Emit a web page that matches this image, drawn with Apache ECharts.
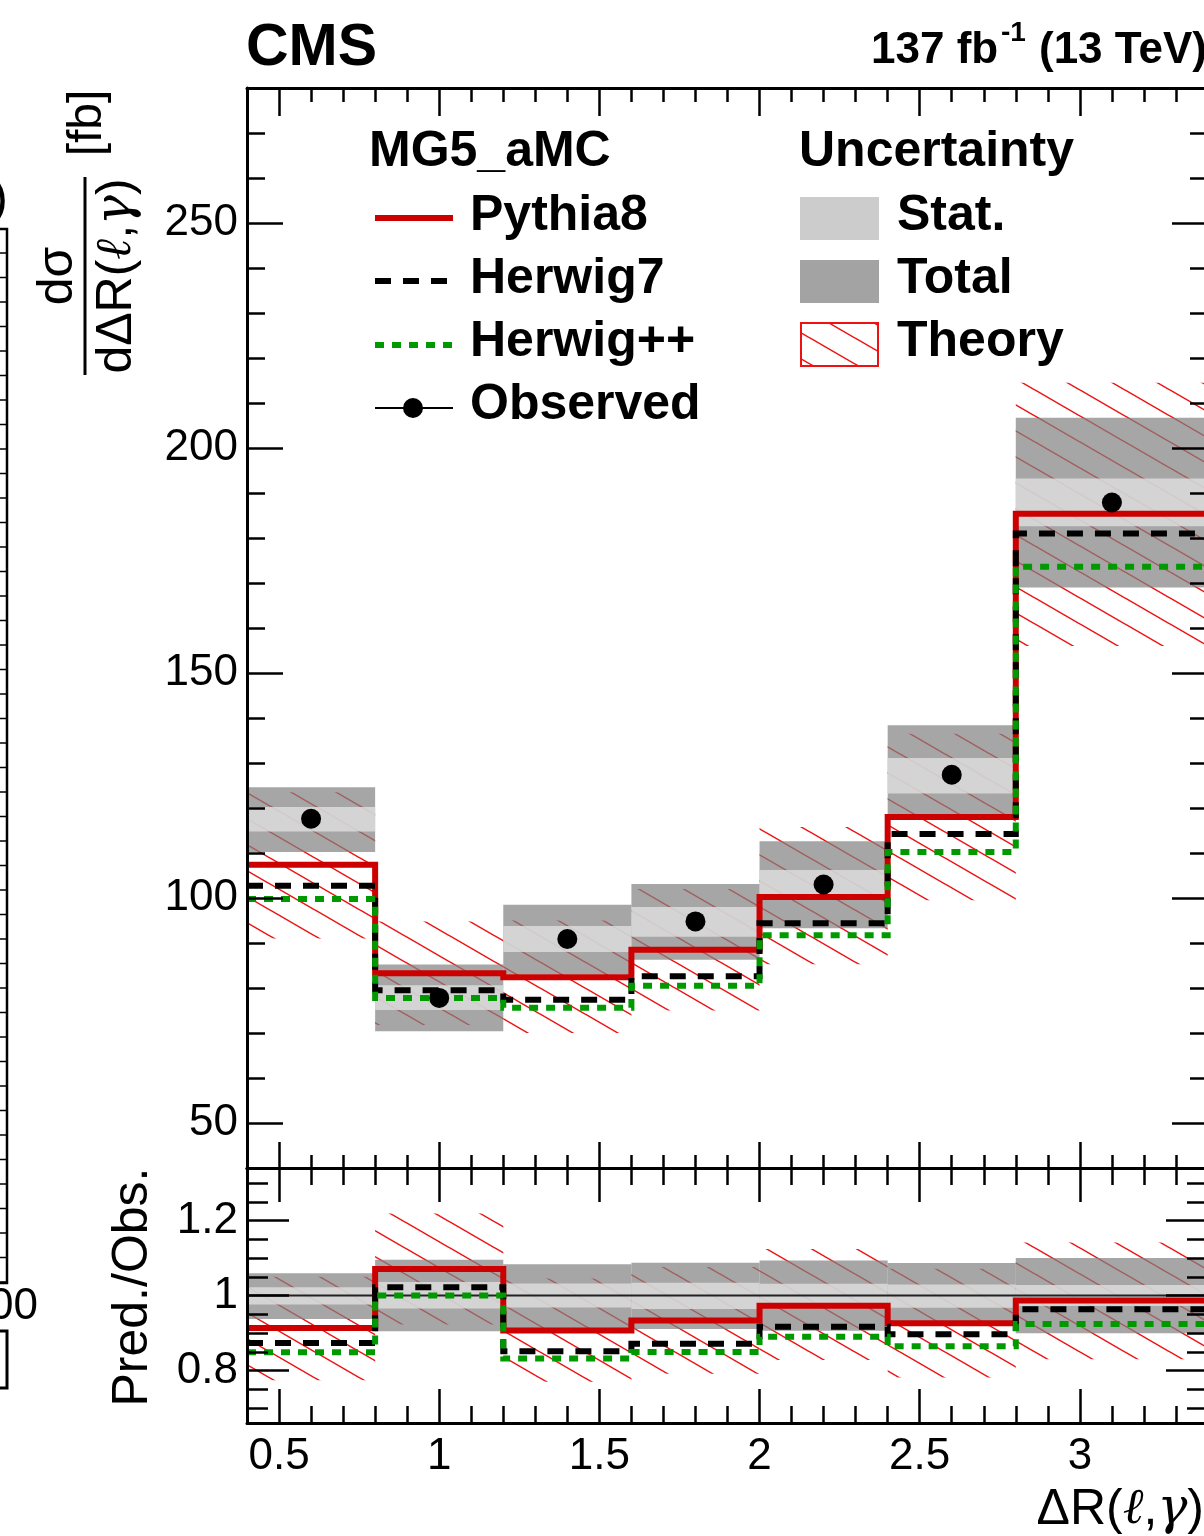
<!DOCTYPE html>
<html>
<head>
<meta charset="utf-8">
<script src="https://cdn.jsdelivr.net/npm/echarts@6/dist/echarts.min.js"></script>
<style>
  html, body { margin: 0; padding: 0; background: #ffffff; }
  #chart { width: 1204px; height: 1536px; }
</style>
</head>
<body>
<div id="chart"></div>
<script>
// Differential cross section in Delta R(lepton, photon), bin edges and contents (fb)
const binEdges   = [0.4, 0.8, 1.2, 1.6, 2.0, 2.4, 2.8, 3.4];
const observed   = [117.6, 77.8, 90.9, 94.8, 103.0, 127.4, 187.9];
const statLow    = [114.8, 75.1, 88.0, 91.4, 99.6, 123.2, 182.6];
const statHigh   = [120.2, 80.6, 93.8, 98.0, 106.2, 131.1, 193.2];
const totalLow   = [110.2, 70.4, 83.0, 86.3, 93.3, 117.8, 169.0];
const totalHigh  = [124.6, 85.2, 98.5, 103.1, 112.6, 138.4, 206.7];
const pythia8    = [107.4, 83.3, 82.4, 88.5, 100.2, 118.0, 185.4];
const herwig7    = [102.7, 79.5, 77.4, 82.6, 94.4, 114.2, 181.0];
const herwigPP   = [99.8, 77.8, 75.6, 80.5, 91.7, 110.2, 173.6];
const theoryLow  = [91.0, 71.8, 70.0, 75.0, 85.3, 99.5, 156.0];
const theoryHigh = [123.5, 94.8, 95.0, 102.0, 115.8, 136.5, 214.5];

// Axis ranges and tick positions
const xRange = [0.4, 3.4];
const yMainRange = [40, 280];
const yRatioRange = [0.66, 1.34];
const xMajorTicks = [0.5, 1, 1.5, 2, 2.5, 3];
const xMinorTicks = [0.4, 0.5, 0.6, 0.7, 0.8, 0.9, 1.0, 1.1, 1.2, 1.3, 1.4, 1.5, 1.6, 1.7,
                     1.8, 1.9, 2.0, 2.1, 2.2, 2.3, 2.4, 2.5, 2.6, 2.7, 2.8, 2.9, 3.0, 3.1, 3.2, 3.3, 3.4];
const yMainMajorTicks = [50, 100, 150, 200, 250];
const yMainMinorTicks = [40, 50, 60, 70, 80, 90, 100, 110, 120, 130, 140, 150, 160, 170, 180,
                         190, 200, 210, 220, 230, 240, 250, 260, 270, 280];
const yRatioMajorTicks = [0.8, 1, 1.2];
const yRatioMinorTicks = [0.7, 0.75, 0.8, 0.85, 0.9, 0.95, 1.0, 1.05, 1.1, 1.15, 1.2, 1.25, 1.3];

const FONT = '"Liberation Sans", Arial, Helvetica, sans-serif';
const RED = '#cc0000';
const GREEN = '#009a00';

// Ratio to the observed values
const toRatio = arr => arr.map((v, i) => v / observed[i]);

// Histogram outline: horizontal segment per bin, joined by vertical steps
function stepData(values) {
  const pts = [];
  values.forEach((v, i) => {
    pts.push([binEdges[i], v]);
    pts.push([binEdges[i + 1], v]);
  });
  return pts;
}
// Per-bin band: [low edge, high edge, low value, high value]
function bandData(lo, hi) {
  return lo.map((v, i) => [binEdges[i], binEdges[i + 1], v, hi[i]]);
}
function binCenters(values) {
  return values.map((v, i) => [(binEdges[i] + binEdges[i + 1]) / 2, v]);
}

// Diagonal hatch used for the theory uncertainty
function makeHatchCanvas() {
  const W = 45, H = 26;
  const c = document.createElement('canvas');
  c.width = W; c.height = H;
  const ctx = c.getContext('2d');
  ctx.strokeStyle = '#ee1111';
  ctx.lineWidth = 1.5;
  for (let k = -1; k <= 1; k++) {
    ctx.beginPath();
    ctx.moveTo(-W, -H + k * H);
    ctx.lineTo(2 * W, 2 * H + k * H);
    ctx.stroke();
  }
  return c;
}
const hatchFill = { image: makeHatchCanvas(), repeat: 'repeat' };
const totalFill = 'rgba(128,128,128,0.70)';
const statFill = 'rgba(220,220,220,0.85)';

function bandSeries(xi, yi, data, fill, z) {
  return {
    type: 'custom', xAxisIndex: xi, yAxisIndex: yi, z: z, clip: true,
    encode: { x: [0, 1], y: [2, 3] },
    data: data,
    renderItem: function (params, api) {
      const p0 = api.coord([api.value(0), api.value(3)]);
      const p1 = api.coord([api.value(1), api.value(2)]);
      return {
        type: 'rect',
        shape: { x: p0[0], y: p0[1], width: p1[0] - p0[0], height: p1[1] - p0[1] },
        style: { fill: fill, stroke: null }
      };
    }
  };
}
function histSeries(xi, yi, values, color, dash, z) {
  return {
    type: 'line', xAxisIndex: xi, yAxisIndex: yi, z: z, clip: true,
    data: stepData(values), symbol: 'none', silent: true,
    lineStyle: { color: color, width: 6, type: dash, cap: 'butt', join: 'miter', opacity: 1 }
  };
}

// Axis helpers: one axis per tick set so major/minor ticks can have their own lengths
function xAx(grid, pos, ticks, len, opts) {
  opts = opts || {};
  return {
    gridIndex: grid, type: 'value', position: pos, min: xRange[0], max: xRange[1], z: 10,
    axisLine: { show: !!opts.line, lineStyle: { color: '#000', width: 3 } },
    splitLine: { show: false },
    axisTick: { show: true, inside: true, length: len, customValues: ticks,
                lineStyle: { color: '#000', width: 2.5 } },
    axisLabel: opts.labels ? {
      show: true, customValues: ticks, margin: 12, color: '#000',
      fontSize: 44, fontFamily: FONT
    } : { show: false }
  };
}
function yAx(grid, pos, range, ticks, len, opts) {
  opts = opts || {};
  return {
    gridIndex: grid, type: 'value', position: pos, min: range[0], max: range[1], z: 10,
    axisLine: { show: !!opts.line, lineStyle: { color: '#000', width: 3 } },
    splitLine: { show: false },
    axisTick: { show: true, inside: true, length: len, customValues: ticks,
                lineStyle: { color: '#000', width: 2.5 } },
    axisLabel: opts.labels ? {
      show: true, customValues: ticks, margin: 9, color: '#000',
      fontSize: 44, fontFamily: FONT
    } : { show: false }
  };
}

const series = [
  // upper panel
  bandSeries(0, 0, bandData(theoryLow, theoryHigh), hatchFill, 1),
  bandSeries(0, 0, bandData(totalLow, totalHigh), totalFill, 2),
  bandSeries(0, 0, bandData(statLow, statHigh), statFill, 3),
  histSeries(0, 0, pythia8, RED, 'solid', 5),
  histSeries(0, 0, herwig7, '#000000', [16, 12], 6),
  histSeries(0, 0, herwigPP, GREEN, [9, 8], 7),
  {
    type: 'scatter', xAxisIndex: 0, yAxisIndex: 0, z: 8,
    data: binCenters(observed), symbol: 'circle', symbolSize: 20,
    itemStyle: { color: '#000', opacity: 1 }, silent: true
  },
  // ratio panel
  bandSeries(4, 4, bandData(toRatio(theoryLow), toRatio(theoryHigh)), hatchFill, 1),
  bandSeries(4, 4, bandData(toRatio(totalLow), toRatio(totalHigh)), totalFill, 2),
  bandSeries(4, 4, bandData(toRatio(statLow), toRatio(statHigh)), statFill, 3),
  {
    type: 'line', xAxisIndex: 4, yAxisIndex: 4, z: 4, symbol: 'none', silent: true,
    data: [[binEdges[0], 1], [binEdges[binEdges.length - 1], 1]],
    lineStyle: { color: '#222', width: 2 }
  },
  histSeries(4, 4, toRatio(pythia8), RED, 'solid', 5),
  histSeries(4, 4, toRatio(herwig7), '#000000', [16, 12], 6),
  histSeries(4, 4, toRatio(herwigPP), GREEN, [9, 8], 7)
];

const txt = (text, x, y, size, weight, align, extra) => Object.assign({
  type: 'text', x: x, y: y, z: 50, silent: true,
  style: { text: text, fontSize: size, fontWeight: weight || 'normal', fontFamily: FONT,
           fill: '#000', align: align || 'left', verticalAlign: 'middle' }
}, extra || {});

const slRich = {
  a: { fontSize: 50, fontFamily: FONT, fill: '#000' },
  i: { fontSize: 50, fontFamily: '"DejaVu Serif", "Liberation Serif", serif', fontStyle: 'italic', fill: '#000' }
};

const graphic = [
  // header
  txt('CMS', 246, 49, 59, 'bold'),
  txt('137 fb', 871, 51, 44, 'bold'),
  txt('-1', 1001, 33, 28, 'bold'),
  txt('(13 TeV)', 1039, 51, 44, 'bold'),

  // y title of the upper panel (fraction, rotated)
  {
    type: 'group', x: 85, y: 276, rotation: Math.PI / 2, z: 50, silent: true,
    children: [
      { type: 'text', x: 0, y: -27, style: { text: 'dσ', fontSize: 50, fontFamily: FONT, fill: '#000', align: 'center', verticalAlign: 'middle' } },
      { type: 'line', shape: { x1: -99, y1: 0, x2: 99, y2: 0 }, style: { stroke: '#000', lineWidth: 3 } },
      { type: 'text', x: 0, y: 32, style: { text: '{a|dΔR(}{i|ℓ}{a|,}{i|γ}{a|)}', rich: slRich, fontSize: 50, fontFamily: FONT, fill: '#000', align: 'center', verticalAlign: 'middle' } },
      { type: 'text', x: 153, y: 3, style: { text: '[fb]', fontSize: 48, fontFamily: FONT, fill: '#000', align: 'center', verticalAlign: 'middle' } }
    ]
  },
  // y title of the ratio panel
  {
    type: 'group', x: 133, y: 1287, rotation: Math.PI / 2, z: 50, silent: true,
    children: [
      { type: 'text', x: 0, y: 0, style: { text: 'Pred./Obs.', fontSize: 50, fontFamily: FONT, fill: '#000', align: 'center', verticalAlign: 'middle' } }
    ]
  },
  // x title
  {
    type: 'text', x: 1204, y: 1510, z: 50, silent: true,
    style: { text: '{a|ΔR(}{i|ℓ}{a|,}{i|γ}{a|)}', rich: slRich, fontSize: 50, fontFamily: FONT, fill: '#000', align: 'right', verticalAlign: 'middle' }
  },

  // legend: generators
  txt('MG5_aMC', 369, 152, 50, 'bold'),
  { type: 'line', z: 50, shape: { x1: 375, y1: 218, x2: 453, y2: 218 }, style: { stroke: RED, lineWidth: 6 } },
  txt('Pythia8', 470, 216, 50, 'bold'),
  { type: 'line', z: 50, shape: { x1: 375, y1: 281, x2: 453, y2: 281 }, style: { stroke: '#000', lineWidth: 6, lineDash: [16, 12] } },
  txt('Herwig7', 470, 279, 50, 'bold'),
  { type: 'line', z: 50, shape: { x1: 375, y1: 345, x2: 453, y2: 345 }, style: { stroke: GREEN, lineWidth: 6, lineDash: [9, 8] } },
  txt('Herwig++', 470, 342, 50, 'bold'),
  { type: 'line', z: 50, shape: { x1: 375, y1: 408, x2: 453, y2: 408 }, style: { stroke: '#000', lineWidth: 2 } },
  { type: 'circle', z: 51, shape: { cx: 413, cy: 408, r: 10 }, style: { fill: '#000' } },
  txt('Observed', 470, 405, 50, 'bold'),

  // legend: uncertainties
  txt('Uncertainty', 799, 152, 50, 'bold'),
  { type: 'rect', z: 50, shape: { x: 800, y: 197, width: 79, height: 43 }, style: { fill: '#cccccc' } },
  txt('Stat.', 897, 216, 50, 'bold'),
  { type: 'rect', z: 50, shape: { x: 800, y: 260, width: 79, height: 43 }, style: { fill: '#a3a3a3' } },
  txt('Total', 897, 279, 50, 'bold'),
  { type: 'rect', z: 50, shape: { x: 801, y: 323, width: 77, height: 43 }, style: { fill: hatchFill, stroke: '#ee1111', lineWidth: 2 } },
  txt('Theory', 897, 342, 50, 'bold'),

  // right edge of the neighbouring panel
  { type: 'polyline', z: 50, shape: { points: [[0, 229], [7, 229], [7, 1283], [0, 1283]] }, style: { stroke: '#000', lineWidth: 2.5, fill: null } },
  { type: 'polyline', z: 50, shape: { points: [[0, 1331], [7, 1331], [7, 1388], [0, 1388]] }, style: { stroke: '#000', lineWidth: 3, fill: null } },
  txt('00', 38, 1307, 44, 'normal', 'right'),
  txt(')', 8, 200, 50, 'normal', 'right')
];
// tick marks on the neighbouring panel's edge
for (let y = 253; y < 1283; y += 24.5) {
  graphic.push({ type: 'line', z: 50, shape: { x1: 0, y1: y, x2: 7, y2: y }, style: { stroke: '#000', lineWidth: 1.5 } });
}

const option = {
  animation: false,
  backgroundColor: '#ffffff',
  grid: [
    { left: 247, top: 88, width: 961, height: 1080, outerBoundsMode: 'none', show: false },
    { left: 247, top: 1168, width: 961, height: 255, outerBoundsMode: 'none', show: false }
  ],
  xAxis: [
    xAx(0, 'bottom', xMajorTicks, 26, { line: true }),
    xAx(0, 'bottom', xMinorTicks, 13),
    xAx(0, 'top', xMajorTicks, 28, { line: true }),
    xAx(0, 'top', xMinorTicks, 14),
    xAx(1, 'bottom', xMajorTicks, 34, { line: true, labels: true }),
    xAx(1, 'bottom', xMinorTicks, 17),
    xAx(1, 'top', xMajorTicks, 34, { line: true }),
    xAx(1, 'top', xMinorTicks, 17)
  ],
  yAxis: [
    yAx(0, 'left', yMainRange, yMainMajorTicks, 36, { line: true, labels: true }),
    yAx(0, 'left', yMainRange, yMainMinorTicks, 18),
    yAx(0, 'right', yMainRange, yMainMajorTicks, 36, { line: true }),
    yAx(0, 'right', yMainRange, yMainMinorTicks, 18),
    yAx(1, 'left', yRatioRange, yRatioMajorTicks, 42, { line: true, labels: true }),
    yAx(1, 'left', yRatioRange, yRatioMinorTicks, 21),
    yAx(1, 'right', yRatioRange, yRatioMajorTicks, 42, { line: true }),
    yAx(1, 'right', yRatioRange, yRatioMinorTicks, 21)
  ],
  series: series,
  graphic: graphic
};

const chart = echarts.init(document.getElementById('chart'), null, { renderer: 'canvas', width: 1204, height: 1536 });
chart.setOption(option);
</script>
</body>
</html>
